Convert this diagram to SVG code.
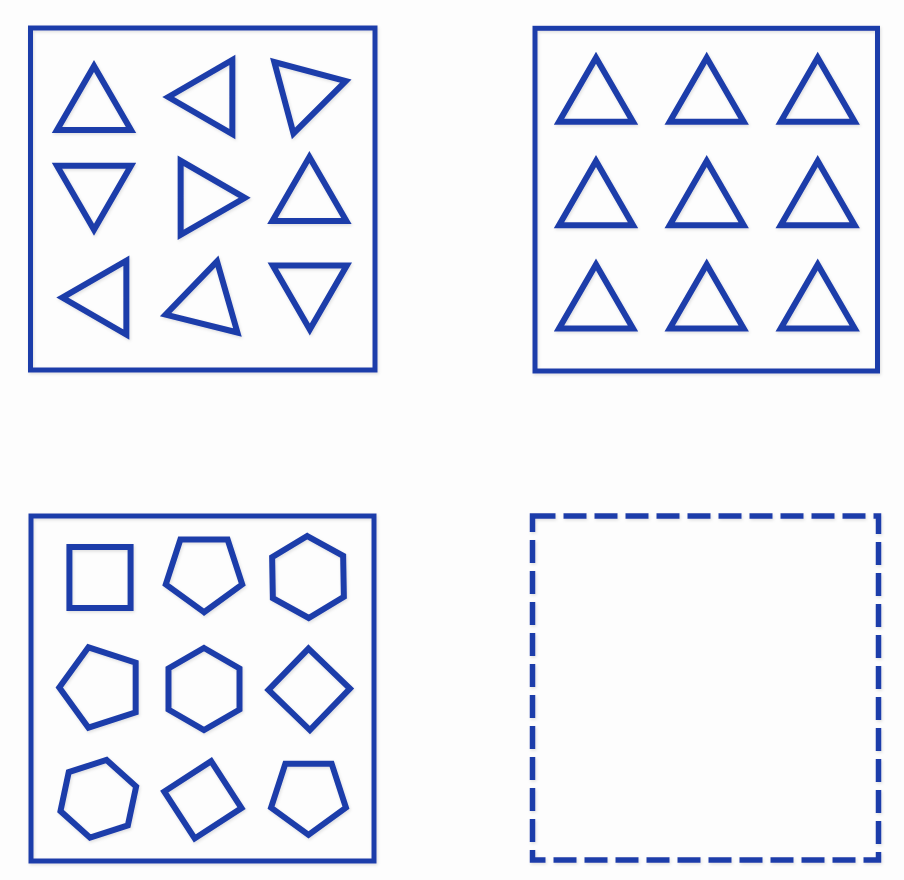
<svg xmlns="http://www.w3.org/2000/svg" xmlns:xlink="http://www.w3.org/1999/xlink" width="904" height="880" viewBox="0 0 904 880">
  <style>
    .frame { fill: none; stroke: #1f3daa; stroke-width: 5; }
    .dashed { fill: none; stroke: #1f3daa; stroke-width: 5.5; stroke-dasharray: 23 8; }
    .shape { fill: none; stroke: #1f3daa; stroke-width: 6; stroke-linejoin: miter; vector-effect: non-scaling-stroke; }
  </style>
  <defs>
    <filter id="soft" x="-10%" y="-10%" width="120%" height="120%">
      <feDropShadow dx="1" dy="1.5" stdDeviation="1.5" flood-color="#000" flood-opacity="0.12"/>
    </filter>
    <polygon id="tri" class="shape" points="0,-42.7 37,21.35 -37,21.35"/>
    <polygon id="sq" class="shape" points="0,-42 42,0 0,42 -42,0"/>
    <polygon id="pent" class="shape" points="0,-41 38.99,-12.67 24.1,33.17 -24.1,33.17 -38.99,-12.67"/>
    <polygon id="hex" class="shape" points="0,-41 35.51,-20.5 35.51,20.5 0,41 -35.51,20.5 -35.51,-20.5"/>
  </defs>
  <rect width="904" height="880" fill="#fdfdfd"/>

  <g id="panel-1" filter="url(#soft)">
    <rect class="frame" x="30.5" y="28" width="344.5" height="342"/>
    <use href="#tri" transform="translate(94,108.7) rotate(0)"/>
    <use href="#tri" transform="translate(211,97) rotate(-90)"/>
    <use href="#tri" transform="translate(304.5,92.2) rotate(75)"/>
    <use href="#tri" transform="translate(94,187) rotate(180)"/>
    <use href="#tri" transform="translate(202,197.8) rotate(90)"/>
    <use href="#tri" transform="translate(309.4,199.7) rotate(0)"/>
    <use href="#tri" transform="translate(105,297.6) rotate(-90)"/>
    <use href="#tri" transform="translate(206.7,302.8) rotate(14)"/>
    <use href="#tri" transform="translate(309.8,286.8) rotate(180)"/>
  </g>

  <g id="panel-2" filter="url(#soft)">
    <rect class="frame" x="535" y="28.3" width="342.5" height="342.7"/>
    <use href="#tri" transform="translate(596,100.4)"/>
    <use href="#tri" transform="translate(706.7,100.4)"/>
    <use href="#tri" transform="translate(817.7,100.4)"/>
    <use href="#tri" transform="translate(596,203.8)"/>
    <use href="#tri" transform="translate(706.7,203.8)"/>
    <use href="#tri" transform="translate(817.7,203.8)"/>
    <use href="#tri" transform="translate(596,307.1)"/>
    <use href="#tri" transform="translate(706.7,307.1)"/>
    <use href="#tri" transform="translate(817.7,307.1)"/>
  </g>

  <g id="panel-3" filter="url(#soft)">
    <rect class="frame" x="31" y="516" width="343" height="345"/>
    <use href="#sq" transform="translate(100,577.5) rotate(45) scale(1.03)"/>
    <use href="#pent" transform="translate(204,572) rotate(180) scale(0.98)"/>
    <use href="#hex" transform="translate(308,577) rotate(-1)"/>
    <use href="#pent" transform="translate(101.5,687.5) rotate(-90) scale(1.03)"/>
    <use href="#hex" transform="translate(204,689)"/>
    <use href="#sq" transform="translate(309.2,689.3) rotate(-1) scale(0.97)"/>
    <use href="#hex" transform="translate(98.3,798.8) rotate(12) scale(0.97)"/>
    <use href="#sq" transform="translate(202.9,799.8) rotate(12) scale(0.94)"/>
    <use href="#pent" transform="translate(308.5,795.5) rotate(180) scale(0.96)"/>
  </g>

  <g id="panel-4" filter="url(#soft)">
    <rect class="dashed" x="532.5" y="516" width="346" height="344"/>
  </g>

  <g id="connectors"></g>
</svg>
